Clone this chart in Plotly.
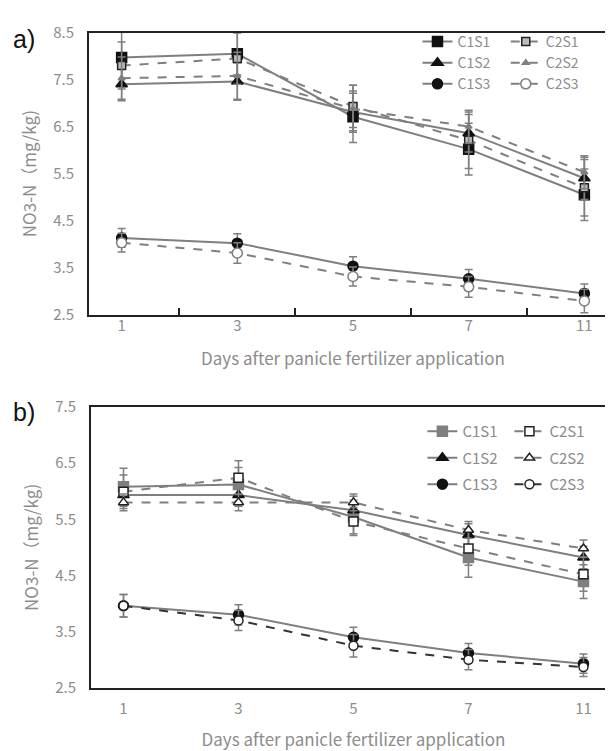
import plotly.graph_objects as go

days = ["1", "3", "5", "7", "11"]
y_ticks_a = [2.5, 3.5, 4.5, 5.5, 6.5, 7.5, 8.5]
y_ticks_b = [2.5, 3.5, 4.5, 5.5, 6.5, 7.5]

# Panel a
a_C1S1 = [7.97, 8.05, 6.71, 6.02, 5.05]
a_C2S1 = [7.80, 7.95, 6.93, 6.21, 5.20]
a_C1S2 = [7.40, 7.46, 6.81, 6.36, 5.40]
a_C2S2 = [7.53, 7.58, 6.88, 6.50, 5.53]
a_C1S3 = [4.13, 4.02, 3.53, 3.26, 2.95]
a_C2S3 = [4.03, 3.81, 3.31, 3.09, 2.79]
a_C1S1_err = [0.55, 0.45, 0.55, 0.55, 0.55]
a_C2S1_err = [0.50, 0.55, 0.45, 0.60, 0.60]
a_C1S2_err = [0.35, 0.40, 0.40, 0.40, 0.45]
a_C2S2_err = [0.45, 0.50, 0.50, 0.35, 0.35]
a_C1S3_err = [0.20, 0.20, 0.20, 0.20, 0.20]
a_C2S3_err = [0.20, 0.22, 0.20, 0.22, 0.25]

# Panel b
b_C1S1 = [6.08, 6.12, 5.54, 4.82, 4.39]
b_C2S1 = [5.99, 6.24, 5.46, 4.98, 4.52]
b_C1S2 = [5.93, 5.93, 5.66, 5.22, 4.82]
b_C2S2 = [5.80, 5.80, 5.80, 5.31, 4.98]
b_C1S3 = [3.96, 3.80, 3.40, 3.12, 2.93]
b_C2S3 = [3.96, 3.70, 3.25, 3.00, 2.87]
b_C1S1_err = [0.33, 0.30, 0.30, 0.35, 0.30]
b_C2S1_err = [0.30, 0.30, 0.25, 0.30, 0.30]
b_C1S2_err = [0.20, 0.20, 0.25, 0.20, 0.20]
b_C2S2_err = [0.15, 0.15, 0.15, 0.15, 0.15]
b_C1S3_err = [0.20, 0.18, 0.18, 0.17, 0.17]
b_C2S3_err = [0.20, 0.18, 0.20, 0.18, 0.17]

GREY = "#7f7f7f"
TXT = "#8c8c8c"
FONT = "Noto Sans CJK SC"

fig = go.Figure()


def add(name, y, err, xa, ya, dash, symbol, mcolor, mline, size, legend, lcolor=GREY, group=None):
    fig.add_trace(go.Scatter(
        x=days, y=y, name=name, xaxis=xa, yaxis=ya, mode="lines+markers",
        line=dict(color=lcolor, width=2, dash=dash),
        marker=dict(symbol=symbol, color=mcolor, size=size, line=dict(color=mline, width=1.5)),
        error_y=dict(type="data", array=err, visible=True, color=GREY, thickness=1.5, width=4),
        legend=legend, legendgroup=group,
    ))


# panel a
add("C1S1", a_C1S1, a_C1S1_err, "x", "y", "solid", "square", "#111111", "#111111", 10, "legend")
add("C1S2", a_C1S2, a_C1S2_err, "x", "y", "solid", "triangle-up", "#111111", "#111111", 10, "legend")
add("C1S3", a_C1S3, a_C1S3_err, "x", "y", "solid", "circle", "#111111", "#111111", 10, "legend")
add("C2S1", a_C2S1, a_C2S1_err, "x", "y", "dash", "square", "#bbbbbb", "#222222", 8, "legend2")
add("C2S2", a_C2S2, a_C2S2_err, "x", "y", "dash", "triangle-up", GREY, GREY, 6, "legend2")
add("C2S3", a_C2S3, a_C2S3_err, "x", "y", "dash", "circle", "#ffffff", GREY, 10, "legend2")

# panel b
add("C1S1", b_C1S1, b_C1S1_err, "x2", "y2", "solid", "square", GREY, GREY, 10, "legend3", group="b1")
add("C1S2", b_C1S2, b_C1S2_err, "x2", "y2", "solid", "triangle-up", "#111111", "#111111", 10, "legend3", group="b2")
add("C1S3", b_C1S3, b_C1S3_err, "x2", "y2", "solid", "circle", "#111111", "#111111", 10, "legend3", group="b3")
add("C2S1", b_C2S1, b_C2S1_err, "x2", "y2", "dash", "square", "#ffffff", "#222222", 9, "legend4", group="b4")
add("C2S2", b_C2S2, b_C2S2_err, "x2", "y2", "dash", "triangle-up", "#ffffff", "#222222", 9, "legend4", group="b5")
add("C2S3", b_C2S3, b_C2S3_err, "x2", "y2", "dash", "circle", "#ffffff", "#222222", 9, "legend4", lcolor="#333333", group="b6")

tickfont = dict(family=FONT, size=15, color=TXT)
titlefont = dict(family=FONT, size=17, color=TXT)


def xaxis(domain, anchor, ticks, lab_off, title_off):
    return dict(domain=domain, anchor=anchor, type="category", categoryorder="array",
                categoryarray=days, showline=True, mirror=True, linecolor="#222222", linewidth=2,
                ticks=ticks, tickson="boundaries", ticklen=7, tickwidth=2, tickcolor="#222222",
                showgrid=False, zeroline=False, tickfont=tickfont, ticklabelstandoff=lab_off,
                title=dict(text="Days after panicle fertilizer application", font=titlefont, standoff=title_off))


def yaxis(domain, anchor, rng, tv):
    return dict(domain=domain, anchor=anchor, range=rng, tickvals=tv, ticktext=[f"{v:.1f}" for v in tv],
                showline=True, mirror=True, linecolor="#222222", linewidth=2, ticks="",
                showgrid=False, zeroline=False, tickfont=tickfont, ticklabelstandoff=10,
                title=dict(text="NO3-N（mg/kg)", font=titlefont, standoff=12))


legfont_a = dict(family=FONT, size=14, color=TXT)
legfont_b = dict(family=FONT, size=15, color=TXT)

fig.update_layout(
    width=613, height=751, margin=dict(l=0, r=0, t=0, b=0),
    paper_bgcolor="white", plot_bgcolor="white",
    xaxis=xaxis([0.1321, 0.9935], "y", "inside", -4, 20),
    yaxis=yaxis([0.5965, 0.9827], "x", [2.5, 8.5], y_ticks_a),
    xaxis2=xaxis([0.1354, 0.9918], "y2", "", 6, 17),
    yaxis2=yaxis([0.0852, 0.4700], "x2", [2.5, 7.5], y_ticks_b),
    legend=dict(x=0.668, y=0.992, xanchor="left", yanchor="top", font=legfont_a,
                bgcolor="rgba(0,0,0,0)", itemwidth=30, tracegroupgap=0),
    legend2=dict(x=0.812, y=0.992, xanchor="left", yanchor="top", font=legfont_a,
                 bgcolor="rgba(0,0,0,0)", itemwidth=30, tracegroupgap=0),
    legend3=dict(x=0.676, y=0.459, xanchor="left", yanchor="top", font=legfont_b,
                 bgcolor="rgba(0,0,0,0)", itemwidth=30, tracegroupgap=4),
    legend4=dict(x=0.818, y=0.459, xanchor="left", yanchor="top", font=legfont_b,
                 bgcolor="rgba(0,0,0,0)", itemwidth=30, tracegroupgap=4),
    annotations=[
        dict(text="a)", x=0.005, y=1 - 20 / 751, xref="paper", yref="paper", xanchor="left",
             yanchor="middle", showarrow=False, font=dict(family="Liberation Sans", size=25, color="#111111")),
        dict(text="b)", x=0.005, y=1 - 403 / 751, xref="paper", yref="paper", xanchor="left",
             yanchor="middle", showarrow=False, font=dict(family="Liberation Sans", size=25, color="#111111")),
    ],
)

fig.write_html("out.html")
